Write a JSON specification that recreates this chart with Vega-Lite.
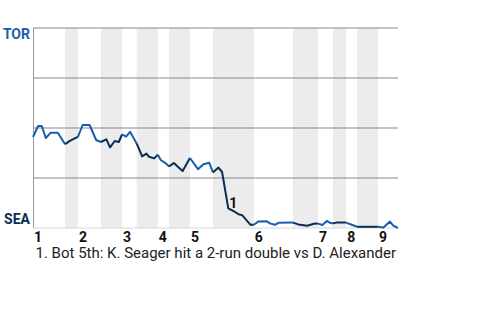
{
  "$schema": "https://vega.github.io/schema/vega-lite/v6.json",
  "width": 365,
  "height": 200,
  "autosize": "none",
  "padding": {"left": 33, "top": 28, "right": 82, "bottom": 92},
  "background": "white",
  "config": {"view": {"stroke": null}, "font": "Roboto"},
  "datasets": {
    "wp": [
      {"p": 0, "t": 45.5, "seg": "T1", "half": "top"},
      {"p": 1.4, "t": 51, "seg": "T1", "half": "top"},
      {"p": 2.4, "t": 51, "seg": "T1", "half": "top"},
      {"p": 3.5, "t": 45, "seg": "T1", "half": "top"},
      {"p": 4.8, "t": 47.6, "seg": "T1", "half": "top"},
      {"p": 6.8, "t": 47.6, "seg": "T1", "half": "top"},
      {"p": 8.8, "t": 41.9, "seg": "T1", "half": "top"},
      {"p": 8.8, "t": 41.9, "seg": "B1", "half": "bottom"},
      {"p": 10.0, "t": 43.4, "seg": "B1", "half": "bottom"},
      {"p": 11.0, "t": 44.4, "seg": "B1", "half": "bottom"},
      {"p": 12.3, "t": 45.6, "seg": "B1", "half": "bottom"},
      {"p": 12.3, "t": 45.6, "seg": "T2", "half": "top"},
      {"p": 13.6, "t": 51.5, "seg": "T2", "half": "top"},
      {"p": 15.5, "t": 51.5, "seg": "T2", "half": "top"},
      {"p": 17.3, "t": 44, "seg": "T2", "half": "top"},
      {"p": 18.6, "t": 43, "seg": "T2", "half": "top"},
      {"p": 18.6, "t": 43, "seg": "B2", "half": "bottom"},
      {"p": 20.1, "t": 44.3, "seg": "B2", "half": "bottom"},
      {"p": 21.1, "t": 40.3, "seg": "B2", "half": "bottom"},
      {"p": 22.4, "t": 43.5, "seg": "B2", "half": "bottom"},
      {"p": 23.5, "t": 43, "seg": "B2", "half": "bottom"},
      {"p": 24.4, "t": 46.8, "seg": "B2", "half": "bottom"},
      {"p": 24.4, "t": 46.8, "seg": "T3", "half": "top"},
      {"p": 25.5, "t": 45.7, "seg": "T3", "half": "top"},
      {"p": 26.6, "t": 48.1, "seg": "T3", "half": "top"},
      {"p": 28.4, "t": 42.3, "seg": "T3", "half": "top"},
      {"p": 28.4, "t": 42.3, "seg": "B3", "half": "bottom"},
      {"p": 29.9, "t": 35.8, "seg": "B3", "half": "bottom"},
      {"p": 31.1, "t": 37.2, "seg": "B3", "half": "bottom"},
      {"p": 31.8, "t": 35.6, "seg": "B3", "half": "bottom"},
      {"p": 33.2, "t": 34.8, "seg": "B3", "half": "bottom"},
      {"p": 34.2, "t": 36.6, "seg": "B3", "half": "bottom"},
      {"p": 34.2, "t": 36.6, "seg": "T4", "half": "top"},
      {"p": 35.0, "t": 34, "seg": "T4", "half": "top"},
      {"p": 36.2, "t": 32.6, "seg": "T4", "half": "top"},
      {"p": 37.3, "t": 30.8, "seg": "T4", "half": "top"},
      {"p": 37.3, "t": 30.8, "seg": "B4", "half": "bottom"},
      {"p": 38.6, "t": 32.5, "seg": "B4", "half": "bottom"},
      {"p": 39.7, "t": 30.6, "seg": "B4", "half": "bottom"},
      {"p": 41.0, "t": 28.5, "seg": "B4", "half": "bottom"},
      {"p": 43.0, "t": 35, "seg": "B4", "half": "bottom"},
      {"p": 43.0, "t": 35, "seg": "T5", "half": "top"},
      {"p": 45.2, "t": 29.4, "seg": "T5", "half": "top"},
      {"p": 46.7, "t": 31.9, "seg": "T5", "half": "top"},
      {"p": 48.3, "t": 32.6, "seg": "T5", "half": "top"},
      {"p": 49.3, "t": 27.8, "seg": "T5", "half": "top"},
      {"p": 49.3, "t": 27.8, "seg": "B5", "half": "bottom"},
      {"p": 50.8, "t": 30.2, "seg": "B5", "half": "bottom"},
      {"p": 51.8, "t": 28, "seg": "B5", "half": "bottom"},
      {"p": 53.5, "t": 9.8, "seg": "B5", "half": "bottom"},
      {"p": 54.9, "t": 8.5, "seg": "B5", "half": "bottom"},
      {"p": 56.3, "t": 6.9, "seg": "B5", "half": "bottom"},
      {"p": 57.3, "t": 6.4, "seg": "B5", "half": "bottom"},
      {"p": 59.6, "t": 1.6, "seg": "B5", "half": "bottom"},
      {"p": 60.5, "t": 1.6, "seg": "B5", "half": "bottom"},
      {"p": 60.5, "t": 1.6, "seg": "T6", "half": "top"},
      {"p": 61.7, "t": 3.2, "seg": "T6", "half": "top"},
      {"p": 64.0, "t": 3.4, "seg": "T6", "half": "top"},
      {"p": 64.9, "t": 2.3, "seg": "T6", "half": "top"},
      {"p": 66.3, "t": 1.6, "seg": "T6", "half": "top"},
      {"p": 67.2, "t": 2.6, "seg": "T6", "half": "top"},
      {"p": 71.2, "t": 2.7, "seg": "T6", "half": "top"},
      {"p": 71.2, "t": 2.7, "seg": "B6", "half": "bottom"},
      {"p": 72.7, "t": 1.8, "seg": "B6", "half": "bottom"},
      {"p": 75.1, "t": 1.1, "seg": "B6", "half": "bottom"},
      {"p": 77.0, "t": 2.1, "seg": "B6", "half": "bottom"},
      {"p": 78.1, "t": 2.2, "seg": "B6", "half": "bottom"},
      {"p": 78.1, "t": 2.2, "seg": "T7", "half": "top"},
      {"p": 79.3, "t": 1.5, "seg": "T7", "half": "top"},
      {"p": 80.5, "t": 3.5, "seg": "T7", "half": "top"},
      {"p": 81.4, "t": 2.6, "seg": "T7", "half": "top"},
      {"p": 82.2, "t": 2.3, "seg": "T7", "half": "top"},
      {"p": 82.2, "t": 2.3, "seg": "B7", "half": "bottom"},
      {"p": 83.4, "t": 2.8, "seg": "B7", "half": "bottom"},
      {"p": 85.8, "t": 2.7, "seg": "B7", "half": "bottom"},
      {"p": 85.8, "t": 2.7, "seg": "T8", "half": "top"},
      {"p": 87.3, "t": 1.6, "seg": "T8", "half": "top"},
      {"p": 88.8, "t": 0.6, "seg": "T8", "half": "top"},
      {"p": 88.8, "t": 0.6, "seg": "B8", "half": "bottom"},
      {"p": 94.5, "t": 0.6, "seg": "B8", "half": "bottom"},
      {"p": 94.5, "t": 0.6, "seg": "T9", "half": "top"},
      {"p": 96.0, "t": 0.2, "seg": "T9", "half": "top"},
      {"p": 97.8, "t": 3.2, "seg": "T9", "half": "top"},
      {"p": 98.7, "t": 1.2, "seg": "T9", "half": "top"},
      {"p": 100, "t": 0, "seg": "T9", "half": "top"}
    ],
    "innings": [
      {"inning": "1", "start": 0, "bstart": 8.8, "bend": 12.3},
      {"inning": "2", "start": 12.3, "bstart": 18.6, "bend": 24.4},
      {"inning": "3", "start": 24.4, "bstart": 28.4, "bend": 34.2},
      {"inning": "4", "start": 34.2, "bstart": 37.3, "bend": 43.0},
      {"inning": "5", "start": 43.0, "bstart": 49.3, "bend": 60.5},
      {"inning": "6", "start": 60.5, "bstart": 71.2, "bend": 78.1},
      {"inning": "7", "start": 78.1, "bstart": 82.2, "bend": 85.8},
      {"inning": "8", "start": 85.8, "bstart": 88.8, "bend": 94.5},
      {"inning": "9", "start": 94.5, "bstart": null, "bend": null}
    ],
    "grid": [
      {"v": 0},
      {"v": 25},
      {"v": 50},
      {"v": 75},
      {"v": 100}
    ],
    "teams": [
      {"team": "TOR", "v": 100},
      {"team": "SEA", "v": 0}
    ],
    "notes": [
      {"label": "1", "p": 53.5, "t": 9.8}
    ]
  },
  "layer": [
    {
      "data": {"name": "innings"},
      "mark": {"type": "rect", "color": "#ececec"},
      "encoding": {
        "x": {
          "field": "bstart", "type": "quantitative",
          "scale": {"domain": [0, 100], "nice": false, "zero": false},
          "axis": {
            "domain": false, "ticks": false, "labels": false, "grid": false,
            "title": "1. Bot 5th: K. Seager hit a 2-run double vs D. Alexander",
            "titleFont": "Roboto", "titleFontSize": 15, "titleFontWeight": "normal",
            "titleColor": "#222", "titleAlign": "left", "titleAnchor": "start",
            "titleBaseline": "alphabetic", "titleX": 2, "titleY": 29
          }
        },
        "x2": {"field": "bend"}
      }
    },
    {
      "data": {"name": "grid"},
      "mark": {"type": "rule", "strokeWidth": 1},
      "encoding": {
        "y": {
          "field": "v", "type": "quantitative",
          "scale": {"domain": [0, 100], "nice": false},
          "axis": {
            "domain": true, "domainColor": "#999", "domainWidth": 1,
            "ticks": false, "labels": false, "grid": false, "title": null
          }
        },
        "color": {"condition": {"test": "datum.v == 0", "value": "#d8d8d8"}, "value": "#888888"}
      }
    },
    {
      "data": {"name": "wp"},
      "mark": {"type": "line", "strokeWidth": 2, "strokeJoin": "round"},
      "encoding": {
        "x": {"field": "p", "type": "quantitative"},
        "y": {"field": "t", "type": "quantitative"},
        "detail": {"field": "seg"},
        "stroke": {
          "field": "half", "type": "nominal",
          "scale": {"domain": ["top", "bottom"], "range": ["#1a5dad", "#0c2c56"]},
          "legend": null
        },
        "order": {"field": "p", "type": "quantitative"}
      }
    },
    {
      "data": {"name": "innings"},
      "mark": {"type": "text", "align": "left", "baseline": "top", "dx": 1, "dy": 3, "font": "Roboto", "fontSize": 14, "fontWeight": "bold", "color": "#111"},
      "encoding": {
        "x": {"field": "start", "type": "quantitative"},
        "y": {"datum": 0},
        "text": {"field": "inning"}
      }
    },
    {
      "data": {"name": "notes"},
      "mark": {"type": "text", "align": "left", "baseline": "alphabetic", "dx": 1, "font": "Roboto", "fontSize": 14, "fontWeight": "bold", "color": "#111"},
      "encoding": {
        "x": {"field": "p", "type": "quantitative"},
        "y": {"field": "t", "type": "quantitative"},
        "text": {"field": "label"}
      }
    },
    {
      "data": {"name": "teams"},
      "transform": [{"filter": "datum.team == 'TOR'"}],
      "mark": {"type": "text", "align": "right", "baseline": "middle", "dx": -3, "dy": 7, "font": "Roboto", "fontSize": 14, "fontWeight": "bold", "color": "#1a5dad"},
      "encoding": {
        "x": {"datum": 0},
        "y": {"field": "v", "type": "quantitative"},
        "text": {"field": "team"}
      }
    },
    {
      "data": {"name": "teams"},
      "transform": [{"filter": "datum.team == 'SEA'"}],
      "mark": {"type": "text", "align": "right", "baseline": "middle", "dx": -3, "dy": -8, "font": "Roboto", "fontSize": 14, "fontWeight": "bold", "color": "#0c2c56"},
      "encoding": {
        "x": {"datum": 0},
        "y": {"field": "v", "type": "quantitative"},
        "text": {"field": "team"}
      }
    }
  ]
}
